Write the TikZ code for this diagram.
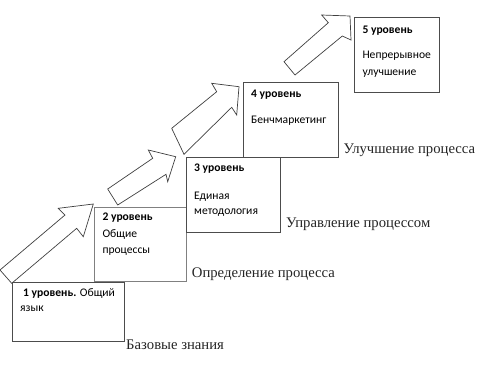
\documentclass[tikz,border=0pt]{standalone}
\usepackage{fontspec}
\setmainfont{Liberation Serif}
\newfontfamily\boxfont{Carlito}
\begin{document}
\begin{tikzpicture}[x=1pt,y=-1pt,
  lvlbox/.style={draw=black!70,line width=0.8pt},
  lvlboxlight/.style={draw=black!50,line width=0.8pt},
  blockarrow/.style={draw=black!75,line width=0.7pt,fill=white,line join=miter},
  boxtxt/.style={anchor=base west,inner sep=0pt,font=\boxfont\fontsize{11.6}{13}\selectfont},
  stagetxt/.style={anchor=base west,inner sep=0pt,font=\fontsize{14.7}{17}\selectfont,text=black!85}]
\useasboundingbox (0,0) rectangle (486,365);
\fill[white] (0,0) rectangle (486,365);
% boxes
\draw[lvlbox] (12,282) rectangle (124,341);
\draw[lvlboxlight] (94,207) rectangle (186,281);
\draw[lvlbox] (186,157) rectangle (280,232);
\draw[lvlbox] (243,82) rectangle (338,157);
\draw[lvlbox] (354,17) rectangle (439,92);
% block arrows
\draw[blockarrow] (93.3,204) -- (58.3,208.3) -- (65,215) -- (0,270) -- (11.7,283.3) -- (76.7,228.3) -- (83.3,236.7) -- cycle;
\draw[blockarrow] (175.7,156.7) -- (148.3,150) -- (152.7,158.3) -- (107.7,189) -- (117.7,205) -- (166,174.3) -- (167.7,181.7) -- cycle;
\draw[blockarrow] (239,86.7) -- (211.7,83.3) -- (216.7,91.7) -- (171.7,128.3) -- (184,154.3) -- (231.7,107.3) -- (236.7,115) -- cycle;
\draw[blockarrow] (350,16) -- (321.7,15) -- (328.3,22.7) -- (284,61.7) -- (295,75) -- (342.3,36) -- (351,40) -- cycle;
% box texts
\node[boxtxt] (l1a) at (23,296) {\textbf{1 уровень.} Общий};
\node[boxtxt] (l1b) at (20,311.7) {язык};
\node[boxtxt] (l2a) at (102.3,220.7) {\textbf{2 уровень}};
\node[boxtxt] (l2b) at (102.3,237.7) {Общие};
\node[boxtxt] (l2c) at (102.3,253.3) {процессы};
\node[boxtxt] (l3a) at (194,171) {\textbf{3 уровень}};
\node[boxtxt] (l3b) at (194,199) {Единая};
\node[boxtxt] (l3c) at (194,214) {методология};
\node[boxtxt] (l4a) at (251,97.3) {\textbf{4 уровень}};
\node[boxtxt] (l4b) at (251,123.3) {Бенчмаркетинг};
\node[boxtxt] (l5a) at (362.3,33) {\textbf{5 уровень}};
\node[boxtxt] (l5b) at (362.3,58.7) {Непрерывное};
\node[boxtxt] (l5c) at (362.3,75) {улучшение};
% stage labels
\node[stagetxt] (s1) at (126,349) {Базовые знания};
\node[stagetxt] (s2) at (191.7,277.5) {Определение процесса};
\node[stagetxt] (s3) at (286,227.3) {Управление процессом};
\node[stagetxt] (s4) at (343.3,153.3) {Улучшение процесса};
\end{tikzpicture}
\end{document}
